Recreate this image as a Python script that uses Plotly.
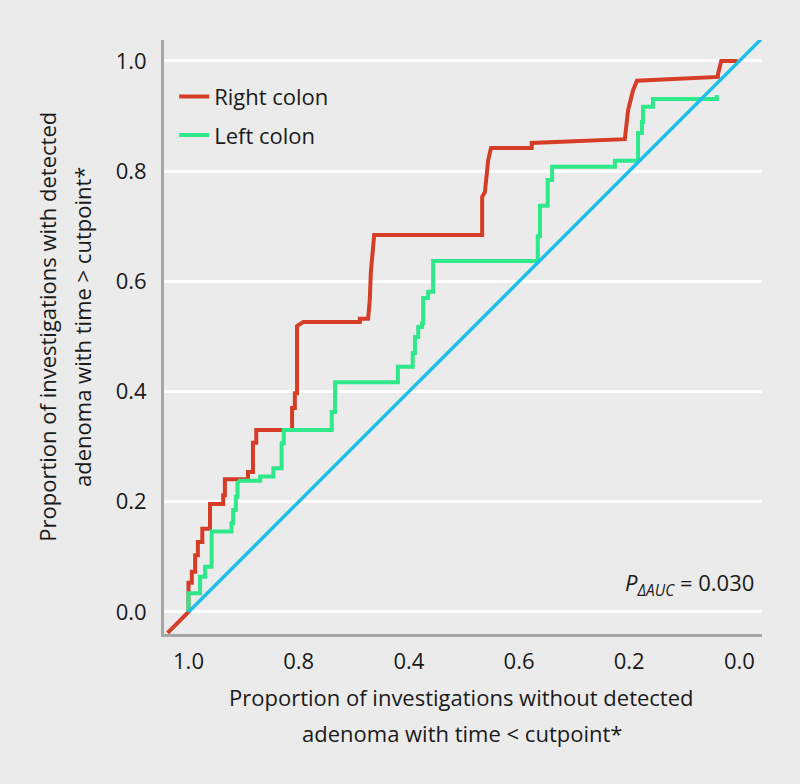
import plotly.graph_objects as go

# Right colon ROC curve: specificity (x) and sensitivity (y)
right_spec = [1.038, 1.0, 1.0, 0.994, 0.994, 0.988, 0.988, 0.983, 0.983, 0.975, 0.975,
              0.961, 0.961, 0.937, 0.937, 0.934, 0.934, 0.892, 0.892, 0.883, 0.883,
              0.877, 0.877, 0.812, 0.812, 0.807, 0.807, 0.803, 0.803, 0.792, 0.689,
              0.689, 0.674, 0.671, 0.669, 0.665, 0.663, 0.467, 0.467, 0.462, 0.456,
              0.451, 0.377, 0.377, 0.208, 0.202, 0.193, 0.186, 0.039, 0.039, 0.033, 0.003]
right_sens = [-0.038, 0.0, 0.053, 0.053, 0.073, 0.073, 0.103, 0.103, 0.127, 0.127, 0.151,
              0.151, 0.196, 0.196, 0.212, 0.212, 0.241, 0.241, 0.254, 0.254, 0.307,
              0.307, 0.330, 0.330, 0.370, 0.370, 0.397, 0.397, 0.519, 0.526, 0.526,
              0.532, 0.532, 0.566, 0.617, 0.670, 0.684, 0.684, 0.753, 0.762, 0.820,
              0.842, 0.842, 0.851, 0.858, 0.911, 0.947, 0.964, 0.971, 0.976, 1.0, 1.0]

# Left colon ROC curve
left_spec = [1.0, 1.0, 0.994, 0.994, 0.979, 0.979, 0.970, 0.970, 0.958, 0.958, 0.922,
             0.922, 0.919, 0.919, 0.914, 0.914, 0.911, 0.911, 0.907, 0.870, 0.870,
             0.846, 0.846, 0.831, 0.831, 0.827, 0.827, 0.740, 0.740, 0.734, 0.734,
             0.620, 0.620, 0.593, 0.593, 0.589, 0.589, 0.583, 0.583, 0.576, 0.576,
             0.574, 0.574, 0.565, 0.565, 0.556, 0.556, 0.366, 0.366, 0.362, 0.362,
             0.348, 0.348, 0.340, 0.340, 0.226, 0.226, 0.184, 0.184, 0.177, 0.177,
             0.175, 0.175, 0.157, 0.157, 0.041, 0.041]
left_sens = [0.0, 0.034, 0.034, 0.034, 0.034, 0.064, 0.064, 0.082, 0.082, 0.146, 0.146,
             0.161, 0.161, 0.185, 0.185, 0.209, 0.209, 0.234, 0.238, 0.238, 0.246,
             0.246, 0.261, 0.261, 0.306, 0.306, 0.330, 0.330, 0.363, 0.363, 0.417,
             0.417, 0.445, 0.445, 0.470, 0.470, 0.499, 0.499, 0.517, 0.517, 0.524,
             0.524, 0.570, 0.570, 0.581, 0.581, 0.637, 0.637, 0.682, 0.682, 0.737,
             0.737, 0.784, 0.784, 0.808, 0.808, 0.819, 0.819, 0.869, 0.869, 0.889,
             0.889, 0.917, 0.917, 0.931, 0.931, 0.938]

# Reference (chance) line
ref_spec = [1.0, -0.06]
ref_sens = [0.0, 1.06]

x_tickvals = [1.0, 0.8, 0.6, 0.4, 0.2, 0.0]
x_ticktext = ["1.0", "0.8", "0.4", "0.6", "0.2", "0.0"]
y_tickvals = [0.0, 0.2, 0.4, 0.6, 0.8, 1.0]
y_ticktext = ["0.0", "0.2", "0.4", "0.6", "0.8", "1.0"]

FONT = "Open Sans"
TXT = "#1a1a1a"
BG = "#ebebeb"

fig = go.Figure()
fig.add_trace(go.Scatter(x=right_spec, y=right_sens, mode="lines", name="Right colon",
                         line=dict(color="#d63d27", width=4), legendgroup="r"))
fig.add_trace(go.Scatter(x=left_spec, y=left_sens, mode="lines", name="Left colon",
                         line=dict(color="#2ee88a", width=4), legendgroup="l"))
fig.add_trace(go.Scatter(x=ref_spec, y=ref_sens, mode="lines", showlegend=False,
                         line=dict(color="#1fbfe9", width=3.5)))

fig.update_layout(
    width=800, height=784,
    margin=dict(l=164, r=38, t=40, b=150),
    paper_bgcolor=BG, plot_bgcolor=BG,
    font=dict(family=FONT, size=22, color=TXT),
    showlegend=True,
    legend=dict(x=0.017, y=0.94, xanchor="left", yanchor="top",
                bgcolor="rgba(0,0,0,0)", traceorder="grouped", tracegroupgap=7,
                font=dict(family=FONT, size=22, color=TXT)),
    xaxis=dict(range=[1.0445, -0.041], tickvals=x_tickvals, ticktext=x_ticktext,
               showgrid=False, zeroline=False, showline=True, linecolor="#a6a6a6",
               linewidth=3, ticks="", ticklabelstandoff=6),
    yaxis=dict(range=[-0.040, 1.038], tickvals=y_tickvals, ticktext=y_ticktext,
               showgrid=True, gridcolor="white", gridwidth=3, zeroline=False,
               showline=True, linecolor="#a6a6a6", linewidth=3, ticks="",
               ticklabelstandoff=10),
)

annos = [
    dict(text="Proportion of investigations without detected", x=0.498, y=-0.106),
    dict(text="adenoma with time &lt; cutpoint*", x=0.498, y=-0.167),
]
for a in annos:
    fig.add_annotation(xref="paper", yref="paper", showarrow=False,
                       xanchor="center", yanchor="middle",
                       font=dict(family=FONT, size=22, color=TXT), **a)

for txt, xp in [("Proportion of investigations with detected", -0.196),
                ("adenoma with time &gt; cutpoint*", -0.137)]:
    fig.add_annotation(text=txt, xref="paper", yref="paper", x=xp, y=0.517,
                       textangle=-90, showarrow=False, xanchor="center",
                       yanchor="middle", font=dict(family=FONT, size=22, color=TXT))

fig.add_annotation(text="<i>P</i><sub><i>ΔAUC</i></sub> = 0.030", xref="paper",
                   yref="paper", x=0.99, y=0.085, xanchor="right", yanchor="middle",
                   showarrow=False, font=dict(family=FONT, size=22, color=TXT))

fig.write_html("out.html", config={"displayModeBar": False},
               post_script="document.body.style.margin='0';document.body.style.padding='0';"
                           "document.documentElement.style.background='#ebebeb';")
